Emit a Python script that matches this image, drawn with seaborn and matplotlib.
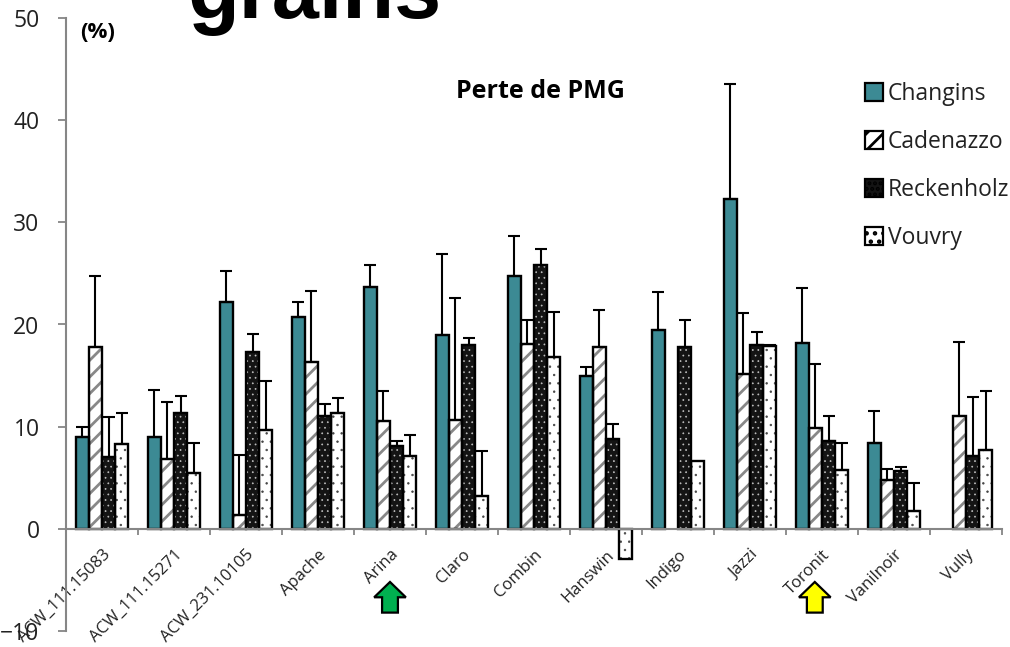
import numpy as np
import pandas as pd
import matplotlib
matplotlib.use("Agg")
import matplotlib.pyplot as plt
from matplotlib.patches import FancyArrow, Patch, Rectangle
import seaborn as sns

varieties = ["ACW_111.15083", "ACW_111.15271", "ACW_231.10105", "Apache", "Arina", "Claro",
             "Combin", "Hanswin", "Indigo", "Jazzi", "Toronit", "Vanilnoir", "Vully"]
nan = np.nan

changins = [9.0, 9.0, 22.2, 20.7, 23.7, 19.0, 24.7, 15.0, 19.5, 32.3, 18.2, 8.4, nan]
cadenazzo = [17.8, 6.8, 1.4, 16.3, 10.6, 10.7, 18.1, 17.8, nan, 15.2, 9.9, 4.8, 11.0]
reckenholz = [7.0, 11.3, 17.3, 11.0, 8.1, 18.0, 25.8, 8.8, 17.8, 18.0, 8.6, 5.7, 7.1]
vouvry = [8.3, 5.5, 9.7, 11.3, 7.1, 3.2, 16.8, -3.0, 6.6, 17.9, 5.8, 1.7, 7.7]

# tops of the error bars
changins_top = [10.0, 13.6, 25.2, 22.2, 25.8, 26.9, 28.7, 15.8, 23.2, 43.5, 23.6, 11.5, nan]
cadenazzo_top = [24.7, 12.4, 7.2, 23.3, 13.5, 22.6, 20.4, 21.4, nan, 21.1, 16.1, 5.9, 18.3]
reckenholz_top = [10.9, 13.0, 19.1, 12.2, 8.6, 18.7, 27.4, 10.3, 20.4, 19.3, 11.0, 6.1, 12.9]
vouvry_top = [11.3, 8.4, 14.5, 12.8, 9.2, 7.6, 21.2, nan, nan, 18.0, 8.4, 4.5, 13.5]

sites = ["Changins", "Cadenazzo", "Reckenholz", "Vouvry"]
values = [changins, cadenazzo, reckenholz, vouvry]
tops = [changins_top, cadenazzo_top, reckenholz_top, vouvry_top]

TEAL = "#3c8a94"
GREY = "#868686"
# face colour, hatch colour, hatch
styles = {
    "Changins": (TEAL, TEAL, None),
    "Cadenazzo": ("white", "#888888", "//"),
    "Reckenholz": ("#141414", "#c0c0c0", "..."),
    "Vouvry": ("white", "#444444", ".."),
}

frames = [pd.DataFrame({"variety": varieties, "site": s, "value": v, "top": t})
          for s, v, t in zip(sites, values, tops)]
df = pd.concat(frames, ignore_index=True)

sns.set_theme(style="white")
plt.rcParams["font.family"] = ["Open Sans", "DejaVu Sans"]
plt.rcParams["hatch.linewidth"] = 2.0

W, H = 1010, 647
fig = plt.figure(figsize=(W / 100, H / 100), dpi=100)
ax = fig.add_axes([66 / W, 1 - 631 / H, (1002 - 66) / W, (631 - 18) / H])

sns.barplot(data=df.dropna(subset=["value"]), x="variety", y="value", hue="site",
            order=varieties, hue_order=sites, width=0.735, gap=0, errorbar=None,
            legend=False, ax=ax, saturation=1)

for site, container in zip(sites, ax.containers):
    face, hatch_col, hatch = styles[site]
    sub = df[df.site == site].set_index("variety")
    for bar in container:
        bar.set_facecolor(face)
        bar.set_edgecolor(hatch_col)
        bar.set_linewidth(0)
        if hatch:
            bar.set_hatch(hatch)
            # dots need a thinner pen than the stripes
            if site != "Cadenazzo" and hasattr(bar, "set_hatch_linewidth"):
                bar.set_hatch_linewidth(0.5)
        # black outline on top, hatch colour comes from the edge colour
        ax.add_patch(Rectangle((bar.get_x(), bar.get_y()), bar.get_width(), bar.get_height(),
                               fill=False, edgecolor="black", linewidth=1.7, zorder=3))
        cx = bar.get_x() + bar.get_width() / 2
        name = varieties[int(round(cx))]
        top = sub.loc[name, "top"]
        if not np.isnan(top):
            ax.errorbar(cx, sub.loc[name, "value"], yerr=[[0], [top - sub.loc[name, "value"]]],
                        color="black", elinewidth=1.5, capsize=4.3, capthick=1.5, zorder=2.5)

ax.set_xlim(-0.5, 12.5)
ax.set_ylim(-10, 50)
ax.set_xlabel("")
ax.set_ylabel("")

for side in ["top", "right"]:
    ax.spines[side].set_visible(False)
ax.spines["bottom"].set_position(("data", 0))
ax.spines["bottom"].set_zorder(4)
for side in ["left", "bottom"]:
    ax.spines[side].set_color(GREY)
    ax.spines[side].set_linewidth(1.5)

ax.set_yticks(np.arange(-10, 51, 10))
ax.tick_params(axis="y", length=6, width=1.3, color=GREY, labelsize=16.5, pad=13,
               labelcolor="#222222", left=True)
# marks between the groups, names in the middle
ax.set_xticks(np.arange(-0.5, 13, 1))
ax.set_xticklabels([])
ax.tick_params(axis="x", which="major", length=4.3, width=1.3, color=GREY, bottom=True)
ax.set_xticks(np.arange(13), minor=True)
ax.set_xticklabels(varieties, minor=True, rotation=45, ha="right", rotation_mode="anchor",
                   fontsize=12, color="#222222")
ax.tick_params(axis="x", which="minor", length=0, pad=13)

# cut-off slide title behind the chart
fig.text(315 / W, 1 - 18 / H, "grains", fontsize=61, fontweight="bold", ha="center", va="baseline",
         family="Liberation Sans", color="black")
fig.text(98 / W, 1 - 32 / H, "(%)", fontsize=16, fontweight="bold", ha="center", va="center",
         color="black")
fig.text(540 / W, 1 - 92 / H, "Perte de PMG", fontsize=18, fontweight="bold", ha="center",
         va="center", color="black")

handles = []
for site in sites:
    face, hatch_col, hatch = styles[site]
    handles.append(Patch(facecolor=face, edgecolor="black", hatch=hatch, linewidth=1.6, label=site))
ax.legend(handles=handles, loc="upper left", bbox_to_anchor=(865 / W, 1 - 82 / H),
          bbox_transform=fig.transFigure, frameon=False, fontsize=16.5, handlelength=0.8,
          handleheight=0.8, handletextpad=0.2, labelspacing=1.05, borderpad=0, borderaxespad=0,
          labelcolor="#222222")

# arrows pointing at the two reference varieties
for x, colour in [(4.0, "#00b050"), (9.9, "#ffff00")]:
    ax.add_patch(FancyArrow(x, -8.2, 0, 3.0, width=0.22, head_width=0.44, head_length=1.5,
                            length_includes_head=True, facecolor=colour, edgecolor="black",
                            linewidth=1.6, clip_on=False, zorder=5))

fig.savefig("out.png", dpi=100)
